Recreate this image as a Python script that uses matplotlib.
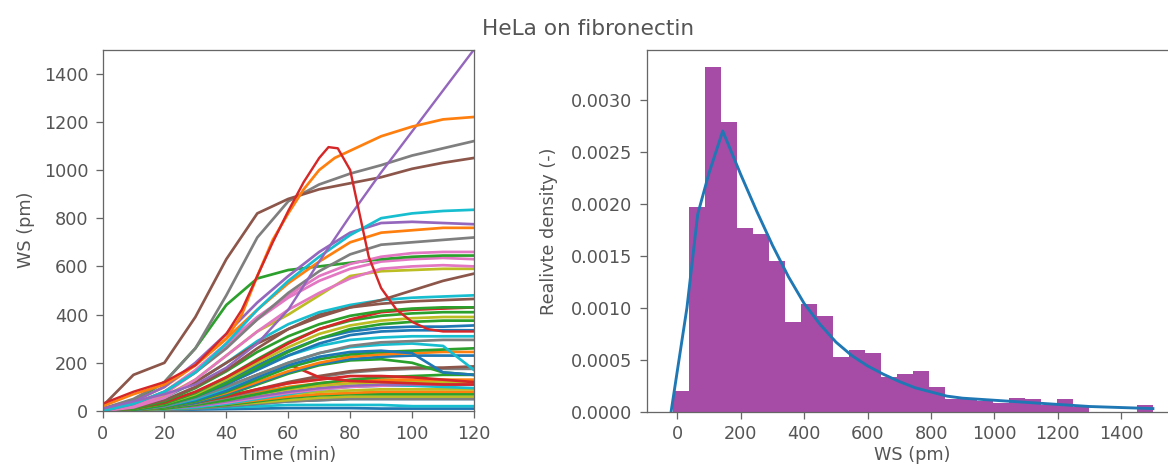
import numpy as np
import matplotlib
matplotlib.use("Agg")
import matplotlib.pyplot as plt

# --- left panel: WS traces (pm) read at 10 min steps ---
time_min = [0, 10, 20, 30, 40, 50, 60, 70, 80, 90, 100, 110, 120]

ws_traces = [
    # low traces
    [0, 2, 4, 6, 8, 10, 12, 12, 12, 10, 10, 10, 10],
    [0, 2, 5, 10, 15, 20, 25, 25, 25, 25, 20, 20, 20],
    [0, 3, 5, 10, 20, 30, 40, 45, 50, 50, 50, 50, 50],
    [0, 2, 5, 10, 20, 30, 40, 45, 50, 50, 50, 50, 50],
    [0, 3, 8, 15, 25, 35, 45, 55, 60, 60, 60, 60, 60],
    [0, 3, 8, 15, 25, 40, 55, 65, 70, 70, 70, 70, 70],
    [0, 5, 10, 20, 30, 45, 60, 70, 75, 80, 80, 80, 80],
    [0, 5, 10, 20, 35, 55, 70, 80, 85, 90, 90, 90, 90],
    [0, 3, 8, 15, 30, 50, 70, 90, 100, 105, 105, 100, 95],
    [0, 5, 10, 20, 35, 55, 75, 90, 100, 105, 110, 110, 110],
    [0, 5, 10, 20, 40, 60, 80, 95, 105, 110, 110, 110, 110],
    [0, 5, 10, 25, 45, 70, 90, 105, 115, 120, 120, 120, 120],
    [0, 5, 15, 30, 55, 80, 100, 115, 125, 130, 130, 130, 130],
    [0, 5, 10, 25, 45, 70, 95, 115, 130, 140, 145, 150, 150],
    [0, 5, 15, 30, 55, 85, 115, 140, 160, 170, 175, 175, 175],
    [0, 5, 15, 35, 60, 90, 120, 145, 165, 175, 180, 180, 185],
    [0, 5, 15, 35, 60, 90, 115, 130, 145, 145, 140, 130, 120],
    [0, 10, 30, 60, 100, 150, 195, 140, 125, 120, 115, 110, 110],
    # middle bundle
    [0, 5, 15, 35, 65, 110, 155, 190, 210, 215, 200, 160, 150],
    [0, 5, 15, 35, 70, 115, 160, 195, 215, 225, 230, 230, 230],
    [0, 5, 15, 40, 75, 120, 165, 200, 225, 235, 240, 245, 245],
    [0, 5, 15, 40, 80, 130, 180, 215, 235, 245, 250, 255, 260],
    [0, 5, 20, 45, 85, 140, 190, 225, 245, 250, 240, 160, 150],
    [0, 5, 20, 50, 95, 150, 200, 240, 265, 275, 280, 270, 170],
    [0, 5, 20, 55, 100, 150, 200, 240, 270, 285, 290, 295, 295],
    [0, 10, 30, 70, 120, 180, 230, 270, 295, 305, 310, 310, 310],
    [0, 5, 25, 60, 110, 170, 230, 280, 315, 330, 335, 335, 335],
    [0, 10, 30, 70, 125, 190, 250, 300, 330, 345, 350, 350, 355],
    [0, 5, 25, 60, 115, 180, 245, 300, 340, 360, 370, 375, 375],
    [0, 10, 30, 70, 130, 200, 265, 320, 355, 375, 385, 390, 390],
    [0, 10, 30, 75, 140, 215, 285, 340, 375, 395, 405, 410, 410],
    [0, 10, 35, 80, 140, 210, 280, 340, 380, 410, 420, 425, 430],
    [0, 10, 40, 95, 165, 245, 310, 360, 395, 415, 425, 430, 430],
    [0, 15, 45, 100, 170, 260, 340, 400, 430, 445, 455, 460, 465],
    [0, 20, 55, 120, 200, 290, 360, 410, 440, 460, 470, 475, 480],
    [0, 20, 60, 120, 200, 280, 340, 390, 430, 460, 500, 540, 570],
    # upper group
    [0, 20, 60, 130, 230, 330, 400, 480, 560, 580, 585, 590, 590],
    [0, 15, 55, 130, 230, 330, 420, 490, 550, 590, 600, 605, 600],
    [0, 20, 70, 160, 270, 380, 470, 540, 590, 620, 630, 635, 630],
    [0, 40, 120, 260, 440, 550, 585, 600, 615, 630, 640, 645, 645],
    [0, 25, 80, 170, 280, 390, 480, 560, 610, 640, 655, 660, 660],
    [0, 30, 80, 160, 260, 380, 490, 580, 650, 690, 700, 710, 720],
    [10, 40, 100, 190, 300, 420, 530, 620, 700, 740, 750, 760, 760],
    [10, 40, 100, 200, 320, 450, 560, 660, 740, 780, 785, 780, 775],
    [0, 30, 80, 160, 280, 420, 540, 640, 730, 800, 820, 830, 835],
    # high traces
    [10, 50, 120, 260, 480, 720, 870, 940, 985, 1020, 1060, 1090, 1120],
    [20, 150, 200, 390, 630, 820, 880, 920, 945, 970, 1005, 1030, 1050],
]

trace_colors = [
    "tab:blue", "tab:cyan", "tab:blue", "tab:gray", "tab:olive", "tab:green",
    "tab:orange", "tab:olive", "tab:cyan", "tab:pink", "tab:purple", "tab:olive",
    "tab:orange", "tab:green", "tab:gray", "tab:brown", "tab:red", "tab:red",
    "tab:green", "tab:blue", "tab:orange", "tab:green", "tab:blue", "tab:cyan",
    "tab:gray", "tab:cyan", "tab:blue", "tab:blue", "tab:green", "tab:olive",
    "tab:green", "tab:red", "tab:green", "tab:brown", "tab:cyan", "tab:brown",
    "tab:olive", "tab:pink", "tab:pink", "tab:green", "tab:pink", "tab:gray",
    "tab:orange", "tab:purple", "tab:cyan", "tab:gray", "tab:brown",
]

# traces with their own time points
orange_t = [0, 10, 20, 30, 40, 45, 50, 55, 60, 65, 70, 75, 80, 90, 100, 110, 120]
orange_ws = [20, 70, 110, 190, 300, 400, 560, 710, 820, 920, 1000, 1050, 1080, 1140, 1180, 1210, 1220]

red_t = [0, 10, 20, 30, 40, 45, 50, 55, 60, 65, 70, 73, 76, 80, 83, 86, 90, 95, 100, 105, 110, 120]
red_ws = [30, 80, 120, 190, 320, 420, 560, 700, 830, 950, 1050, 1095, 1090, 1000, 820, 640, 510, 420, 370, 340, 330, 330]

purple_t = [0, 10, 20, 30, 40, 50, 60, 70, 80, 90, 100, 110, 120]
purple_ws = [10, 40, 70, 110, 180, 280, 420, 620, 810, 990, 1160, 1330, 1500]

# --- right panel: histogram of WS (pm) ---
hist_lo, hist_hi, n_bins = -15, 1500, 30
density = [0.00020, 0.00197, 0.00332, 0.00279, 0.00177, 0.00171, 0.00145, 0.00086,
           0.00104, 0.00092, 0.00053, 0.00059, 0.00056, 0.00033, 0.00036, 0.00039,
           0.00024, 0.00012, 0.00012, 0.00010, 0.00008, 0.00013, 0.00012, 0.00006,
           0.00012, 0.00005, 0.0, 0.0, 0.0, 0.00006]

fit_x = [-20, 30, 64, 100, 143, 200, 250, 300, 350, 400, 450, 500, 550, 600, 650,
         700, 750, 800, 850, 900, 1000, 1100, 1200, 1300, 1400, 1500]
fit_y = [0, 0.0010, 0.0019, 0.0023, 0.0027, 0.00228, 0.00193, 0.0016, 0.0013, 0.00104,
         0.00084, 0.00067, 0.00054, 0.00044, 0.00036, 0.00029, 0.00023, 0.00019,
         0.00015, 0.00013, 0.00011, 0.00009, 0.00007, 0.00005, 0.00004, 0.00003]

text_col = "#555555"
plt.rcParams["font.size"] = 11
plt.rcParams["text.color"] = text_col
plt.rcParams["axes.labelcolor"] = text_col
plt.rcParams["xtick.color"] = "#666666"
plt.rcParams["ytick.color"] = "#666666"
plt.rcParams["xtick.labelcolor"] = text_col
plt.rcParams["ytick.labelcolor"] = text_col
plt.rcParams["axes.edgecolor"] = "#666666"
plt.rcParams["xtick.major.size"] = 4.5
plt.rcParams["ytick.major.size"] = 4.5
plt.rcParams["xtick.major.pad"] = 4
plt.rcParams["ytick.major.pad"] = 4.5

W, H = 1168, 471
dpi = 115
fig = plt.figure(figsize=(W / dpi, H / dpi), dpi=dpi)

ax1 = fig.add_axes([102.5 / W, 60 / H, 371.5 / W, 361.5 / H])
for ws, c in zip(ws_traces, trace_colors):
    ax1.plot(time_min, ws, color=c, lw=1.7)
ax1.plot(purple_t, purple_ws, color="tab:purple", lw=1.5)
ax1.plot(orange_t, orange_ws, color="tab:orange", lw=1.7)
ax1.plot(red_t, red_ws, color="tab:red", lw=1.5)
ax1.set_xlim(0, 120)
ax1.set_ylim(0, 1500)
ax1.set_xticks([0, 20, 40, 60, 80, 100, 120])
ax1.set_yticks([0, 200, 400, 600, 800, 1000, 1200, 1400])
ax1.set_xlabel("Time (min)", labelpad=2)
ax1.set_ylabel("WS (pm)", labelpad=5.5)

ax2 = fig.add_axes([647 / W, 59.3 / H, 530 / W, 361.7 / H])
edges = np.linspace(hist_lo, hist_hi, n_bins + 1)
ax2.plot(fit_x, fit_y, color="tab:blue", lw=1.8)
ax2.stairs(density, edges, fill=True, color="purple", alpha=0.7)
ax2.set_xlim(-96, 1576)
ax2.set_ylim(0, 0.00348)
ax2.set_xticks([0, 200, 400, 600, 800, 1000, 1200, 1400])
ax2.set_yticks([0, 0.0005, 0.001, 0.0015, 0.002, 0.0025, 0.003])
ax2.set_yticklabels(["0.0000", "0.0005", "0.0010", "0.0015", "0.0020", "0.0025", "0.0030"])
ax2.set_xlabel("WS (pm)", labelpad=2)
ax2.set_ylabel("Realivte density (-)", labelpad=8.5)

fig.text(588 / W, 1 - 35 / H, "HeLa on fibronectin", ha="center", va="baseline",
         fontsize=13.5)

fig.savefig("out.png", dpi=dpi)
